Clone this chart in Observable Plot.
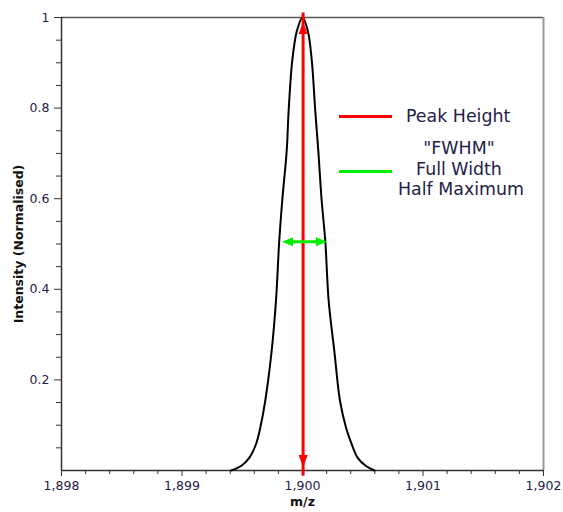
<!DOCTYPE html>
<html>
<head>
<meta charset="utf-8">
<script src="https://cdn.jsdelivr.net/npm/d3@7"></script>
<script src="https://cdn.jsdelivr.net/npm/@observablehq/plot@0.6"></script>
<style>
  html, body { margin: 0; padding: 0; background: #fff; }
  #wrap { position: relative; width: 563px; height: 512px; font-family: "DejaVu Sans", Verdana, sans-serif; }
  .leg { position: absolute; color: #1e2148; font-size: 17.4px; white-space: nowrap; }
  .swatch { position: absolute; height: 3px; }
</style>
</head>
<body>
<div id="wrap"></div>
<script>
// Peak profile (m/z vs normalised intensity)
const mz = [1899.407, 1899.490, 1899.558, 1899.614, 1899.650, 1899.691, 1899.744, 1899.780, 1899.807, 1899.832, 1899.869, 1899.885, 1899.915, 1899.954, 1900.000,
            1900.044, 1900.077, 1900.106, 1900.131, 1900.159, 1900.189, 1900.217, 1900.264, 1900.311, 1900.361, 1900.408, 1900.458, 1900.527, 1900.598];
const intensity = [0.000, 0.010, 0.028, 0.058, 0.095, 0.154, 0.264, 0.375, 0.507, 0.596, 0.706, 0.794, 0.905, 0.971, 1.000,
                   0.971, 0.905, 0.794, 0.706, 0.596, 0.507, 0.375, 0.264, 0.154, 0.095, 0.058, 0.028, 0.010, 0.000];

// Annotation values
const peakX = 1900.005;
const peakTop = 0.99;
const peakBottom = 0.008;
const fwhmY = 0.505;
const fwhmLeft = 1899.830;
const fwhmRight = 1900.203;

// Axes
const xDomain = [1898, 1902];
const yDomain = [0, 1];
const xMajor = [1898, 1899, 1900, 1901, 1902];
const xMinor = [1898.2, 1898.4, 1898.6, 1898.8, 1899.2, 1899.4, 1899.6, 1899.8, 1900.2, 1900.4, 1900.6, 1900.8, 1901.2, 1901.4, 1901.6, 1901.8];
const yMajor = [0.2, 0.4, 0.6, 0.8, 1];
const yMinor = [0.05, 0.1, 0.15, 0.25, 0.3, 0.35, 0.45, 0.5, 0.55, 0.65, 0.7, 0.75, 0.85, 0.9, 0.95];
const xTitle = "m/z";
const yTitle = "Intensity (Normalised)";

// Legend
const legendLabels = ["Peak Height", "\"FWHM\"\nFull Width\nHalf Maximum"];
const legendColors = ["#ff0000", "#00ee00"];

const red = legendColors[0], green = legendColors[1];
const tickColor = "#1e2148";

const headUp = {draw(c){ c.moveTo(0,0); c.lineTo(-4.5,12); c.lineTo(4.5,12); c.closePath(); }};
const headDown = {draw(c){ c.moveTo(0,0); c.lineTo(-4.5,-12); c.lineTo(4.5,-12); c.closePath(); }};
const headLeft = {draw(c){ c.moveTo(0,0); c.lineTo(11,-4.5); c.lineTo(11,4.5); c.closePath(); }};
const headRight = {draw(c){ c.moveTo(0,0); c.lineTo(-11,-4.5); c.lineTo(-11,4.5); c.closePath(); }};

const data = mz.map((m, i) => ({mz: m, intensity: intensity[i]}));

const chart = Plot.plot({
  width: 563,
  height: 512,
  marginLeft: 61,
  marginRight: 20,
  marginTop: 17,
  marginBottom: 42,
  style: {fontFamily: "DejaVu Sans, Verdana, sans-serif", fontSize: "12px", background: "#fff", overflow: "visible"},
  x: {domain: xDomain},
  y: {domain: yDomain},
  marks: [
    Plot.ruleY([yDomain[1]], {stroke: "#555", strokeWidth: 1.5}),
    Plot.ruleX([xDomain[1]], {stroke: "#999", strokeWidth: 2}),
    Plot.axisX({ticks: xMinor, tickSize: 4, text: null, label: null, stroke: "#333"}),
    Plot.axisX({ticks: xMajor, tickSize: 6, tickPadding: 5, tickFormat: d3.format(","), label: null, stroke: "#333", color: tickColor, fontSize: 12.5}),
    Plot.axisY({ticks: yMinor, tickSize: 5, text: null, label: null, stroke: "#333"}),
    Plot.axisY({ticks: yMajor, tickSize: 7, tickPadding: 5, tickFormat: d => String(d), label: null, stroke: "#333", color: tickColor, fontSize: 12.5}),
    Plot.ruleX([xDomain[0]], {stroke: "#333", strokeWidth: 1.5}),
    Plot.ruleY([yDomain[0]], {stroke: "#333", strokeWidth: 1.5}),
    Plot.line(data, {x: "mz", y: "intensity", stroke: "#000", strokeWidth: 2, curve: "catmull-rom"}),
    Plot.ruleX([peakX], {y1: peakBottom, y2: peakTop, insetTop: 9, insetBottom: 9, stroke: red, strokeWidth: 3}),
    Plot.dot([peakX], {x: d => d, y: () => peakTop, symbol: headUp, fill: red, stroke: "none"}),
    Plot.dot([peakX], {x: d => d, y: () => peakBottom, symbol: headDown, fill: red, stroke: "none"}),
    Plot.ruleY([fwhmY], {x1: fwhmLeft, x2: fwhmRight, insetLeft: 8, insetRight: 8, stroke: green, strokeWidth: 3}),
    Plot.dot([fwhmY], {y: d => d, x: () => fwhmLeft, symbol: headLeft, fill: green, stroke: "none"}),
    Plot.dot([fwhmY], {y: d => d, x: () => fwhmRight, symbol: headRight, fill: green, stroke: "none"}),
    Plot.text([xTitle], {frameAnchor: "bottom", dy: 35, textAnchor: "middle", fontWeight: "bold", fontSize: 12.5, fill: "#111"}),
    Plot.text([yTitle], {frameAnchor: "left", dx: -43, rotate: -90, textAnchor: "middle", fontWeight: "bold", fontSize: 12.5, fill: "#111"})
  ]
});

const wrap = document.getElementById("wrap");
wrap.appendChild(chart);

// Legend overlay
function addSwatch(color, top) {
  const s = document.createElement("div");
  s.className = "swatch";
  s.style.left = "339px"; s.style.width = "53px"; s.style.top = top + "px"; s.style.background = color;
  wrap.appendChild(s);
}
function addLabel(text, css) {
  const t = document.createElement("div");
  t.className = "leg";
  t.textContent = text;
  Object.assign(t.style, css);
  wrap.appendChild(t);
}
addSwatch(legendColors[0], 114.5);
addLabel(legendLabels[0], {left: "406px", top: "104px", lineHeight: "24px"});
addSwatch(legendColors[1], 169.5);
const lines = legendLabels[1].split("\n");
const block = document.createElement("div");
block.className = "leg";
Object.assign(block.style, {left: "398px", width: "122px", top: "138px", textAlign: "center", lineHeight: "20.5px"});
lines.forEach(l => { const d = document.createElement("div"); d.textContent = l; block.appendChild(d); });
wrap.appendChild(block);
</script>
</body>
</html>
